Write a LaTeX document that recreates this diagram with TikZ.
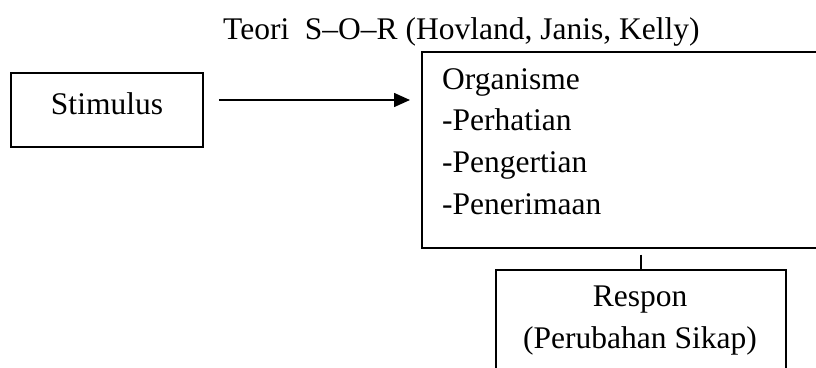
\documentclass[tikz,border=0pt]{standalone}
\usepackage{fontspec}
\setmainfont{Liberation Serif}
\usetikzlibrary{arrows.meta}
\begin{document}
\begin{tikzpicture}[x=1pt,y=-1pt,
  every node/.style={font=\fontsize{31.5}{41.6}\selectfont, inner sep=0pt},
  boxst/.style={draw, line width=1.6pt, rectangle},
  arr/.style={line width=1.5pt, -{Triangle[length=16pt,width=14pt]}},
  conn/.style={line width=1.5pt}]
\useasboundingbox (0,0) rectangle (816,367);
\clip (0,0) rectangle (816,367);
\node[anchor=base west] (title) at (223,39) {Teori\ \ S–O–R (Hovland, Janis, Kelly)};
\node[boxst, anchor=base, minimum width=192pt, text height=41pt, text depth=33pt] (stim) at (107,114) {Stimulus};
\node[boxst, anchor=north west, minimum width=430pt, minimum height=196pt] (org) at (421,51) {};
\node[anchor=north west, align=left] (orgtxt) at (442,68.2) {Organisme\\-Perhatian\\-Pengertian\\-Penerimaan};
\node[boxst, anchor=north west, minimum width=290pt, minimum height=140pt] (resp) at (495,269) {};
\node[anchor=north, align=center] (resptxt) at (640,286) {Respon\\(Perubahan Sikap)};
\draw[arr, shorten <=15pt, shorten >=11pt] ([yshift=10pt]stim.east) -- ([yshift=10pt]stim.east -| org.west);
\draw[conn, shorten <=6pt] (org.south -| resp.north) -- (resp.north);
\end{tikzpicture}
\end{document}
